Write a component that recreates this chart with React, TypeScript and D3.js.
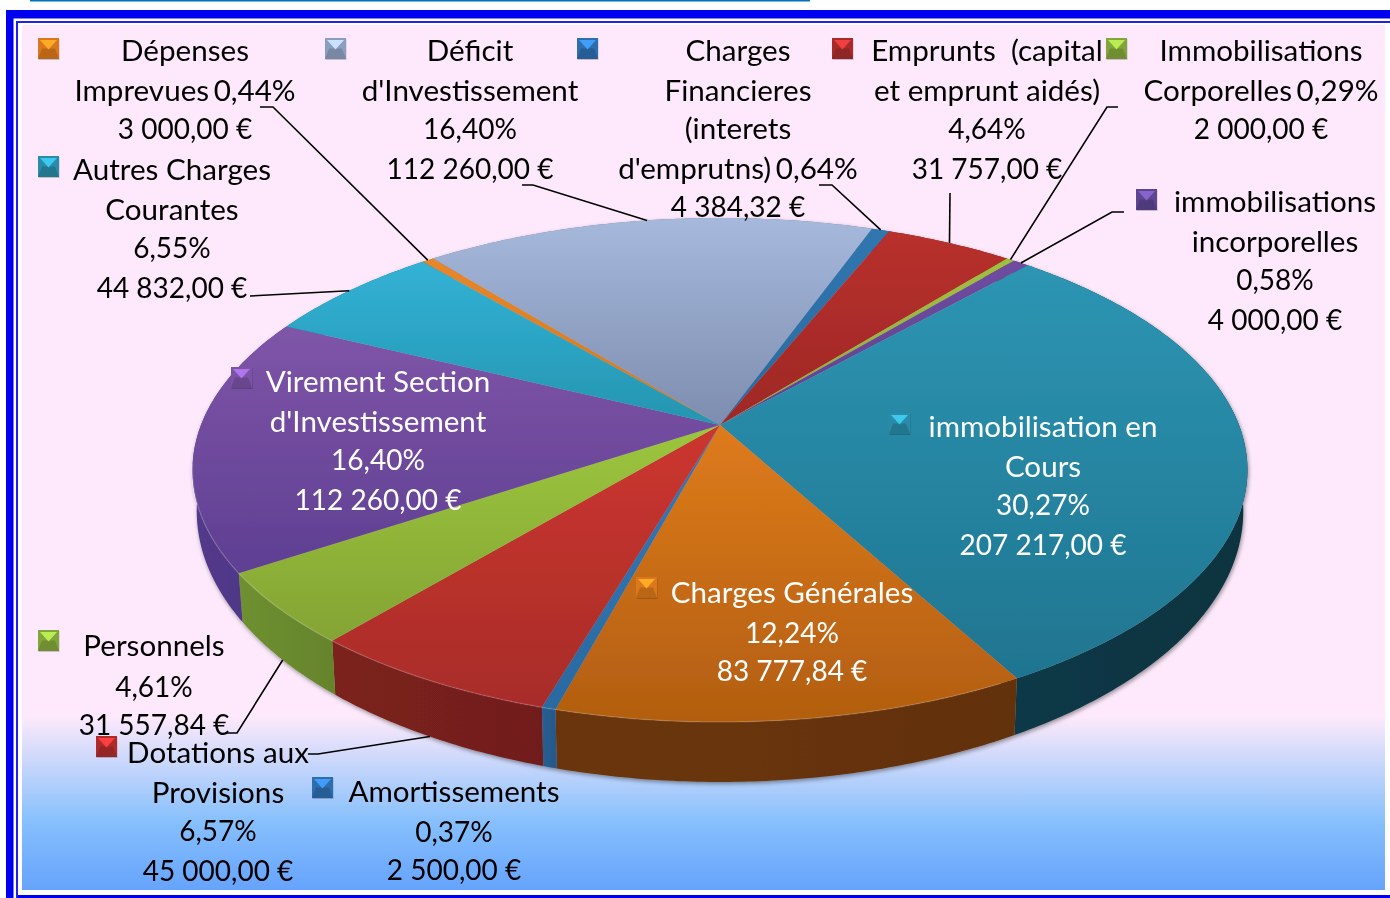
import React from 'react';
import * as d3 from 'd3';

// amounts in euros, in the order of the slices, clockwise
const categories = [
  'Dépenses Imprevues', "Déficit d'Investissement", 'Charges Financieres', 'Emprunts',
  'Immobilisations Corporelles', 'immobilisations incorporelles', 'immobilisation en Cours',
  'Charges Générales', 'Amortissements', 'Dotations aux Provisions', 'Personnels',
  "Virement Section d'Investissement", 'Autres Charges Courantes',
];
const amounts = [3000, 112260, 4384.32, 31757, 2000, 4000, 207217, 83777.84, 2500, 45000, 31557.84, 112260, 44832];

const labelLines = [
  ['Dépenses', 'Imprevues 0,44%', '3 000,00 €'],
  ['Déficit', "d'Investissement", '16,40%', '112 260,00 €'],
  ['Charges', 'Financieres', '(interets', "d'emprutns) 0,64%", '4 384,32 €'],
  ['Emprunts  (capital', 'et emprunt aidés)', '4,64%', '31 757,00 €'],
  ['Immobilisations', 'Corporelles 0,29%', '2 000,00 €'],
  ['immobilisations', 'incorporelles', '0,58%', '4 000,00 €'],
  ['immobilisation en', 'Cours', '30,27%', '207 217,00 €'],
  ['Charges Générales', '12,24%', '83 777,84 €'],
  ['Amortissements', '0,37%', '2 500,00 €'],
  ['Dotations aux', 'Provisions', '6,57%', '45 000,00 €'],
  ['Personnels', '4,61%', '31 557,84 €'],
  ['Virement Section', "d'Investissement", '16,40%', '112 260,00 €'],
  ['Autres Charges', 'Courantes', '6,55%', '44 832,00 €'],
];

// each slice shades from its own top to its own bottom
const topLight = ['#E8862A', '#A6B9DC', '#3076B0', '#B8302D', '#A0C040', '#6F4CA0', '#2D95B3', '#DE7B1C', '#3478B8', '#CC362F', '#9CC63E', '#7F55A8', '#32B2D6'];
const topDark = ['#D07A22', '#7D8DAF', '#2A6AA0', '#9E2825', '#8FA838', '#5E4290', '#1F7590', '#B25E10', '#2A6AA0', '#A82C29', '#84A434', '#5E3F92', '#2595B0'];
const wallColors = ['#A85F18', '#74839F', '#285F94', '#7C211E', '#6E8F2E', '#4E3478', '#113846', '#6B3608', '#285F94', '#7C211E', '#6E9030', '#533A8C', '#1F7A96'];
const keyColors = ['#D9781C', '#8C9EC0', '#2F6DAE', '#A82C2C', '#82A53A', '#5E4590', '#2A8CA8', '#D9781C', '#2F6DAE', '#B02C2C', '#82A53A', '#7A52A5', '#2A8CA8'];
const textColors = ['#000', '#000', '#000', '#000', '#000', '#000', '#fff', '#fff', '#000', '#000', '#000', '#fff', '#000'];

// where each label sits: centre x and one baseline per line
const labelPos: [number, number[]][] = [
  [185, [61, 101, 139]],
  [470, [61, 101, 139, 179]],
  [738, [61, 101, 139, 179, 217]],
  [987, [61, 101, 139, 179]],
  [1261, [61, 101, 139]],
  [1275, [212, 252, 290, 330]],
  [1043, [437, 477, 515, 555]],
  [792, [603, 643, 681]],
  [454, [802, 842, 880]],
  [218, [763, 803, 841, 881]],
  [154, [656, 697, 735]],
  [378, [392, 432, 470, 510]],
  [172, [180, 220, 258, 298]],
];
const keyPos = [[38, 38], [325, 38], [577, 38], [832, 38], [1106, 38], [1136, 189], [889, 413], [636, 577], [312, 777], [96, 736], [38, 630], [231, 367], [38, 156]];

// label side of each leader line, the pie side comes from the slice's mid angle
const leaders: { slice: number; pts: number[][]; rim: 'top' | 'bottom' }[] = [
  { slice: 0, pts: [[260, 107], [273, 107]], rim: 'top' },
  { slice: 1, pts: [[522, 185], [533, 185]], rim: 'top' },
  { slice: 2, pts: [[819, 185], [832, 185]], rim: 'top' },
  { slice: 3, pts: [[950, 193]], rim: 'top' },
  { slice: 4, pts: [[1118, 107], [1107, 107]], rim: 'top' },
  { slice: 5, pts: [[1124, 212], [1112, 212]], rim: 'top' },
  { slice: 9, pts: [[308, 754], [318, 754]], rim: 'bottom' },
  { slice: 10, pts: [[225, 733], [237, 733]], rim: 'bottom' },
  { slice: 12, pts: [[250, 296]], rim: 'top' },
];

const W = 1390;
const H = 898;
const KEY = 21;

// the pie is seen in perspective: the apex is not the centre of the ellipse
const apex = { x: 720, y: 425 };
const persp = 0.1786;
const rx = 519;
const ryTop = 244;
const ryBottom = 262;
const bottomY = 463;

function rimTop(t: number): [number, number] {
  const w = 1 + persp * Math.cos(t);
  return [apex.x + (rx * Math.sin(t)) / w, apex.y - (ryTop * Math.cos(t)) / w];
}
function rimBottom(t: number): [number, number] {
  const w = 1 + persp * Math.cos(t);
  return [apex.x + (0.992 * rx * Math.sin(t)) / w, bottomY - (ryBottom * Math.cos(t)) / w];
}

const startDeg = -40.6;
const pieGen = d3.pie<number>().value((d) => d).sort(null)
  .startAngle((startDeg * Math.PI) / 180)
  .endAngle(((startDeg + 360) * Math.PI) / 180);
const arcs = pieGen(amounts);

const sampleAngles = (a: number, b: number) => {
  const n = Math.max(2, Math.ceil((b - a) / 0.01));
  return d3.range(n + 1).map((i) => a + ((b - a) * i) / n);
};
const line = d3.line();

export default function App() {
  return (
    <svg width={W} height={H} style={{ position: 'absolute', left: 0, top: 0 }} fontFamily="Lato, Carlito, sans-serif">
      <defs>
        <linearGradient id="panel" gradientUnits="userSpaceOnUse" x1="0" y1="25" x2="0" y2="890">
          <stop offset="0.80" stopColor="#FDE9FB" />
          <stop offset="0.92" stopColor="#87C0FC" />
          <stop offset="1" stopColor="#66A3FC" />
        </linearGradient>
        {arcs.map((_, i) => (
          <linearGradient key={i} id={`top${i}`} x1="0" y1="0" x2="0" y2="1">
            <stop offset="0" stopColor={topLight[i]} />
            <stop offset="1" stopColor={topDark[i]} />
          </linearGradient>
        ))}
        {arcs.map((_, i) => (
          <linearGradient key={i} id={`wall${i}`} x1="0" y1="0" x2="1" y2="0">
            <stop offset="0" stopColor={wallColors[i]} />
            <stop offset="1" stopColor={d3.color(wallColors[i])!.darker(0.25).formatHex()} />
          </linearGradient>
        ))}
        <filter id="soft" x="-5%" y="-5%" width="110%" height="115%">
          <feGaussianBlur in="SourceAlpha" stdDeviation="2" />
          <feOffset dx="1" dy="2" />
          <feComponentTransfer><feFuncA type="linear" slope="0.4" /></feComponentTransfer>
          <feMerge result="shadowed"><feMergeNode /><feMergeNode in="SourceGraphic" /></feMerge>
          <feGaussianBlur in="shadowed" stdDeviation="0.5" />
        </filter>
        <filter id="keySoft" x="-20%" y="-20%" width="140%" height="140%">
          <feGaussianBlur stdDeviation="0.6" />
        </filter>
        <filter id="textSoft" x="-5%" y="-5%" width="110%" height="110%">
          <feGaussianBlur stdDeviation="0.25" />
        </filter>
      </defs>

      {/* page frame */}
      <rect x={0} y={0} width={W} height={H} fill="#fff" />
      <rect x={30} y={0} width={780} height={1.5} fill="#0070C0" />
      <rect x={6} y={10} width={W - 6} height={8.5} fill="#0000F0" />
      <rect x={6} y={10} width={7.5} height={H - 10} fill="#0000F0" />
      <rect x={16} y={21} width={W - 16} height={2} fill="#2020F0" />
      <rect x={16} y={21} width={2} height={H - 21} fill="#2020F0" />
      <rect x={18} y={895} width={W - 18} height={3} fill="#0000F0" />
      <rect x={22} y={25} width={1363} height={865} fill="url(#panel)" />

      {/* side wall and top of the pie */}
      <g filter="url(#soft)">
        {arcs.map((a, i) => {
          const ts = sampleAngles(a.startAngle, a.endAngle);
          const pts = [...ts.map(rimTop), ...ts.slice().reverse().map(rimBottom)];
          return <path key={i} d={line(pts) + 'Z'} fill={`url(#wall${i})`} />;
        })}
        {arcs.map((a, i) => {
          const pts: [number, number][] = [[apex.x, apex.y], ...sampleAngles(a.startAngle, a.endAngle).map(rimTop)];
          return <path key={i} d={line(pts) + 'Z'} fill={`url(#top${i})`} />;
        })}
        <path d={line(sampleAngles(Math.PI * 0.85, Math.PI * 1.45).map(rimTop)) ?? ''} fill="none" stroke="#fff" strokeOpacity={0.14} strokeWidth={1.5} />
      </g>

      {/* leader lines */}
      {leaders.map((l) => {
        const mid = (arcs[l.slice].startAngle + arcs[l.slice].endAngle) / 2;
        const end = l.rim === 'top' ? rimTop(mid) : rimBottom(mid);
        return <path key={l.slice} d={line([...(l.pts as [number, number][]), end]) ?? ''} fill="none" stroke="#000" strokeWidth={1.6} />;
      })}

      {/* legend keys: small bevelled pyramids */}
      {keyColors.map((c, i) => {
        const [x, y] = keyPos[i];
        const m = KEY / 2;
        const base = d3.color(c)!;
        return (
          <g key={categories[i]} filter="url(#keySoft)">
            <rect x={x + 0.5} y={y + 1} width={KEY} height={KEY} fill="#000" fillOpacity={0.2} />
            <rect x={x} y={y} width={KEY} height={KEY} fill={base.formatHex()} />
            <path d={`M${x},${y + KEY}H${x + KEY}L${x + KEY - 4},${y + m}H${x + 4}Z`} fill={base.darker(0.45).formatHex()} />
            <path d={`M${x + 2},${y + 2}H${x + KEY - 2}L${x + m},${y + m + 1}Z`} fill={base.brighter(1).formatHex()} />
          </g>
        );
      })}

      {/* labels: the digits of the original font run narrower than the letters */}
      <g filter="url(#textSoft)">
        {labelLines.map((ls, i) => (
          <text key={categories[i]} textAnchor="middle" fill={textColors[i]} style={{ whiteSpace: 'pre' }}>
            {ls.map((s, j) => (
              <tspan
                key={j}
                x={labelPos[i][0]}
                y={labelPos[i][1][j]}
                fontSize={/^\d/.test(s) ? 28 : 29.6}
                wordSpacing={/^\D.* \d/.test(s) ? -3 : 0}
              >
                {s}
              </tspan>
            ))}
          </text>
        ))}
      </g>
    </svg>
  );
}
